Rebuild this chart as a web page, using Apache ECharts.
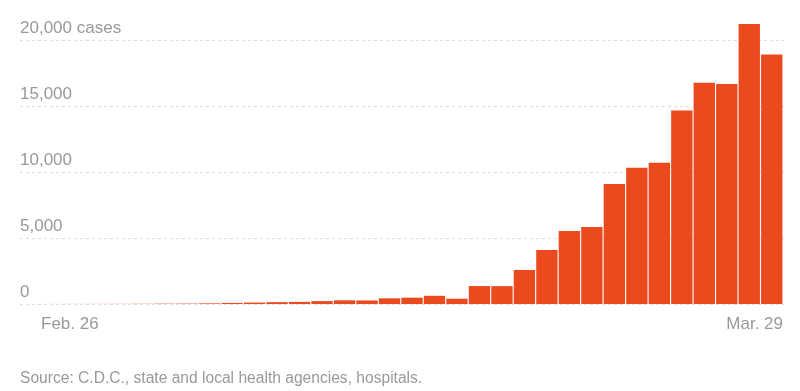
<!DOCTYPE html>
<html>
<head>
<meta charset="utf-8">
<script src="https://cdn.jsdelivr.net/npm/echarts@6/dist/echarts.min.js"></script>
<style>
html,body{margin:0;padding:0;background:#fff;}
#chart{width:800px;height:391px;}
</style>
</head>
<body>
<div id="chart"></div>
<script>
const dates = ['Feb. 26','Feb. 27','Feb. 28','Feb. 29','Mar. 1','Mar. 2','Mar. 3','Mar. 4','Mar. 5','Mar. 6','Mar. 7','Mar. 8','Mar. 9','Mar. 10','Mar. 11','Mar. 12','Mar. 13','Mar. 14','Mar. 15','Mar. 16','Mar. 17','Mar. 18','Mar. 19','Mar. 20','Mar. 21','Mar. 22','Mar. 23','Mar. 24','Mar. 25','Mar. 26','Mar. 27','Mar. 28','Mar. 29'];
const cases = [3,5,8,10,15,25,30,50,80,110,140,160,220,280,270,430,480,620,400,1360,1350,2580,4090,5530,5840,9090,10330,10700,14650,16770,16670,21210,18900];
const yTicks = [0,5000,10000,15000,20000];
const yTickLabels = ['0','5,000','10,000','15,000','20,000 cases'];
const sourceText = 'Source: C.D.C., state and local health agencies, hospitals.';

const labelColor = '#999';
const font = 'Liberation Sans, Arial, sans-serif';
const chart = echarts.init(document.getElementById('chart'), null, {renderer:'canvas'});
chart.setOption({
  animation:false,
  title:{text:sourceText,left:15,top:366,textStyle:{fontSize:15.6,fontWeight:'normal',color:labelColor,fontFamily:font}},
  grid:[
    {left:20,right:16,top:40,bottom:87},
    {left:41,right:17,top:40,bottom:87}
  ],
  xAxis:[
    {gridIndex:0,type:'value',min:0,max:1,show:false},
    {gridIndex:1,type:'category',data:dates,axisLine:{show:false},axisTick:{show:false},axisLabel:{show:false}},
    {gridIndex:1,type:'value',min:0,max:dates.length,interval:dates.length,position:'bottom',
      axisLine:{show:false},axisTick:{show:false},splitLine:{show:false},
      axisLabel:{margin:12,fontSize:17,color:labelColor,fontFamily:font,alignMinLabel:'left',alignMaxLabel:'right',
        formatter:v=> v===0 ? dates[0] : dates[dates.length-1]}}
  ],
  yAxis:[
    {gridIndex:0,type:'value',min:yTicks[0],max:yTicks[yTicks.length-1],interval:5000,
      axisLine:{show:false},axisTick:{show:false},
      splitLine:{show:true,lineStyle:{color:'#dcdcdc',type:[3,3],width:1}},
      axisLabel:{inside:true,margin:0,verticalAlign:'bottom',padding:[0,0,3,0],fontSize:17,color:labelColor,fontFamily:font,
        formatter:v=> yTickLabels[yTicks.indexOf(v)]}},
    {gridIndex:1,type:'value',min:yTicks[0],max:yTicks[yTicks.length-1],interval:5000,show:false,splitLine:{show:false}}
  ],
  series:[{
    type:'bar',xAxisIndex:1,yAxisIndex:1,data:cases,clip:false,
    barCategoryGap:'5%',itemStyle:{color:'#eb4a1f'}
  }]
});
</script>
</body>
</html>
